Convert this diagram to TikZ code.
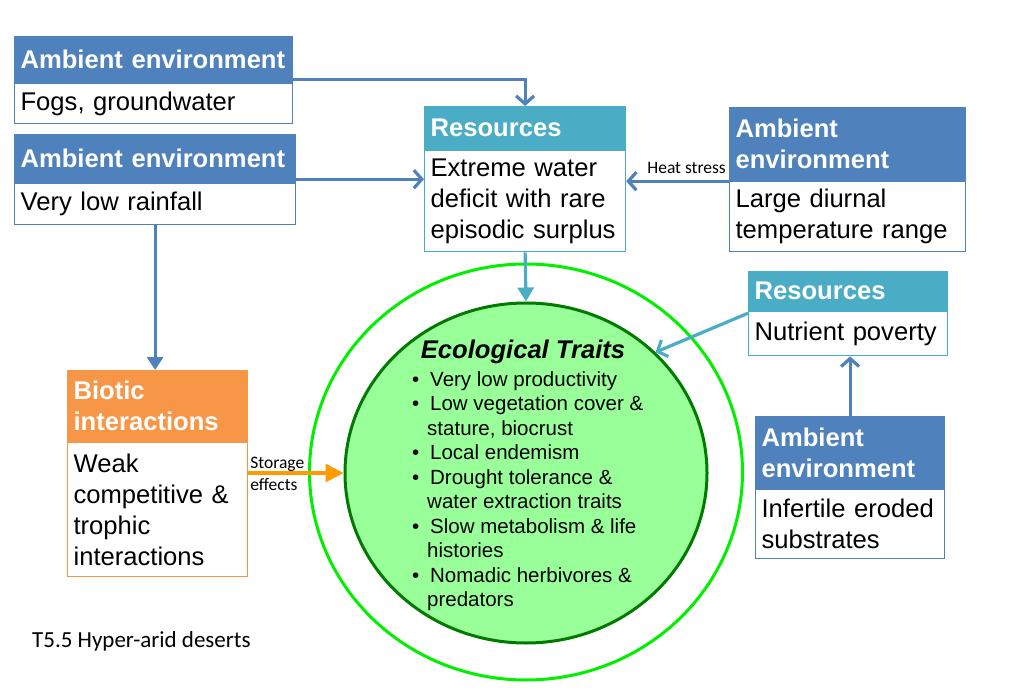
\documentclass[tikz,border=0pt]{standalone}
\usepackage{fontspec}
\setmainfont{Liberation Sans}
\newfontfamily\calib{Carlito}
\usetikzlibrary{shapes.geometric,arrows.meta,calc}
\definecolor{ablue}{HTML}{4F81BD}
\definecolor{rcyan}{HTML}{4BACC6}
\definecolor{borange}{HTML}{F79646}
\definecolor{oarrow}{HTML}{FF9A00}
\definecolor{lgreen}{HTML}{00F000}
\definecolor{dgreen}{HTML}{007A00}
\definecolor{tfill}{HTML}{99FF99}
\newcommand\hf{\bfseries\fontsize{25.6}{31}\selectfont}
\newcommand\bodyf{\fontsize{25.6}{31}\selectfont}
\newcommand\bul{\makebox[18pt][l]{\textbullet}}
\newcommand\ind{\hspace*{15pt}}
\begin{document}
\begin{tikzpicture}[x=1pt,y=-1pt,
 hdr/.style={anchor=north west, fill=#1, draw=#1, line width=1.2pt, text=white, font=\hf, align=left, inner xsep=6pt, inner ysep=0pt},
 bdy/.style={anchor=north west, fill=white, draw=#1, line width=1.2pt, text=black, font=\bodyf, align=left, inner xsep=6pt, inner ysep=0pt},
 barb/.style={draw=#1, line width=3.2pt, -{Straight Barb[length=8pt,width=18pt]}},
 tri/.style={draw=#1, line width=3.2pt, -{Triangle[length=14pt,width=16pt]}},
 small/.style={font=\calib\fontsize{17.5}{22}\selectfont, inner sep=1pt}]
\useasboundingbox (0,0) rectangle (1011,700);

% ellipses
\node[ellipse, draw=lgreen, line width=3pt, minimum width=433pt, minimum height=416pt, inner sep=0pt] (outer) at (526,472) {};
\node[ellipse, draw=dgreen, fill=tfill, line width=3pt, minimum width=362pt, minimum height=340pt, inner sep=0pt] (traits) at (526,473) {};
\node[font=\bfseries\itshape\fontsize{25.6}{30}\selectfont, inner sep=0pt] (ttl) at (523,352) {Ecological Traits};
\node[anchor=north west, align=left, inner sep=0pt, font=\fontsize{20.5}{24.5}\selectfont] (list) at (412,371)
 {\bul Very low productivity\\
  \bul Low vegetation cover \&\\
  \ind stature, biocrust\\
  \bul Local endemism\\
  \bul Drought tolerance \&\\
  \ind water extraction traits\\
  \bul Slow metabolism \& life\\
  \ind histories\\
  \bul Nomadic herbivores \&\\
  \ind predators};

% boxes
\node[hdr=ablue, text width=266pt, minimum height=46pt] (a1h) at (14,36) {Ambient environment};
\node[bdy=ablue, text width=266pt, minimum height=40pt] (a1b) at (a1h.south west) {Fogs, groundwater};

\node[hdr=ablue, text width=269pt, minimum height=48pt] (a2h) at (14,134) {Ambient environment};
\node[bdy=ablue, text width=269pt, minimum height=41pt] (a2b) at (a2h.south west) {Very low rainfall};

\node[hdr=rcyan, text width=189pt, minimum height=43pt] (r1h) at (424,106) {Resources};
\node[bdy=rcyan, text width=189pt, minimum height=101pt] (r1b) at (r1h.south west) {Extreme water\\deficit with rare\\episodic surplus};

\node[hdr=ablue, text width=224pt, minimum height=73pt] (a3h) at (729,107) {Ambient\\environment};
\node[bdy=ablue, text width=224pt, minimum height=70pt] (a3b) at (a3h.south west) {Large diurnal\\temperature range};

\node[hdr=rcyan, text width=187pt, minimum height=39pt] (r2h) at (748,271) {Resources};
\node[bdy=rcyan, text width=187pt, minimum height=44pt] (r2b) at (r2h.south west) {Nutrient poverty};

\node[hdr=ablue, text width=177pt, minimum height=72pt] (a4h) at (755,416) {Ambient\\environment};
\node[bdy=ablue, text width=177pt, minimum height=69pt] (a4b) at (a4h.south west) {Infertile eroded\\substrates};

\node[hdr=borange, text width=168pt, minimum height=71pt] (bh) at (67,370) {Biotic\\interactions};
\node[bdy=borange, text width=168pt, minimum height=134pt] (bb) at (bh.south west) {Weak\\competitive \&\\trophic\\interactions};

% connectors
\coordinate (p1) at ($(a1h.south east)+(0,-4)$);
\draw[barb=ablue] (p1) -| (r1h.north);
\coordinate (p2) at ($(a2h.south east)+(0,-4)$);
\draw[barb=ablue] (p2) -- (p2 -| r1b.west);
\draw[draw=ablue, line width=3.2pt, -{Triangle[length=13pt,width=16pt]}] (a2b.south) -- (a2b.south |- bh.north);
\draw[barb=ablue] (a3h.south west) -- (a3h.south west -| r1b.east);
\node[small, anchor=base east] (heat) at ($(a3h.south west)+(-2,-8)$) {Heat stress};
\draw[tri=rcyan] (r1b.south) -- (traits.north);
\coordinate (p3) at ($(r2b.north west)+(0,2)$);
\draw[barb=rcyan] (p3) -- (traits.43);
\draw[barb=ablue] (a4h.north) -- (a4h.north |- r2b.south);
\coordinate (p4) at (traits.west -| bb.east);
\draw[draw=oarrow, line width=3.2pt, -{Triangle[length=18pt,width=18pt]}] (p4) -- (traits.west);
\node[small, anchor=west, align=left] (stor) at ($(p4)+(1,1)$) {Storage\\effects};

\node[font=\calib\fontsize{23}{27}\selectfont, anchor=west, inner sep=0pt] (cap) at (32,641) {T5.5 Hyper-arid deserts};
\end{tikzpicture}
\end{document}
